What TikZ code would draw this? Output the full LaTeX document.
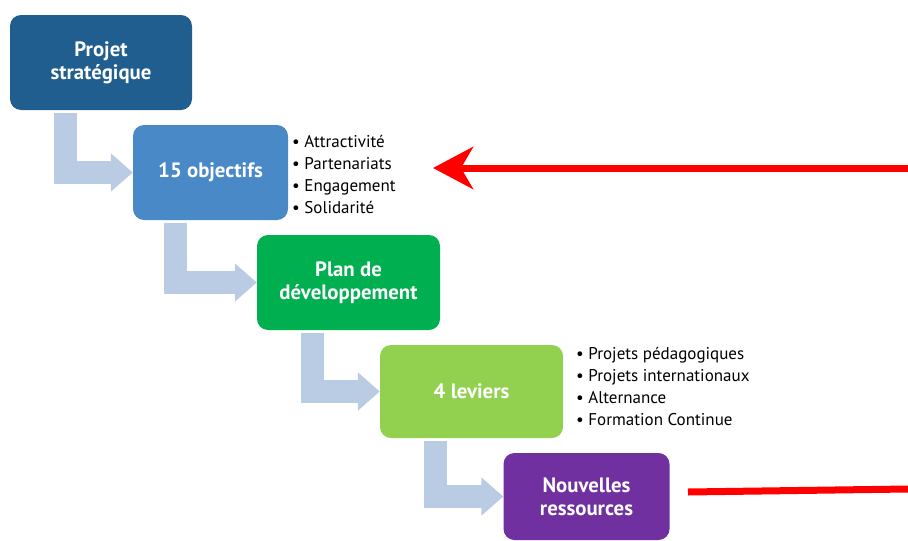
\documentclass[tikz,border=0pt]{standalone}
\usepackage{fontspec}
\setmainfont{PT Sans}
\usetikzlibrary{arrows.meta}
\definecolor{projblue}{HTML}{1F5E8E}
\definecolor{objblue}{HTML}{4A89C8}
\definecolor{plangreen}{HTML}{00B050}
\definecolor{levgreen}{HTML}{92D050}
\definecolor{respurple}{HTML}{7030A0}
\definecolor{bentblue}{HTML}{B9CCE4}
\begin{document}
\begin{tikzpicture}[x=1pt,y=-1pt]
			\tikzstyle{stage}=[rounded corners=11pt,text=white,align=center,inner sep=0pt,font=\bfseries\fontsize{20.8}{23}\selectfont]
			\tikzstyle{items}=[anchor=west,align=left,inner sep=0pt,font=\fontsize{17}{22}\selectfont]
			\tikzstyle{bent}=[line width=23pt,draw=bentblue,line join=miter,-{Triangle[width=37pt,length=22pt]}]
			\tikzstyle{redarrow}=[line width=7pt,draw=red,-{Stealth[length=40pt,width=42pt,inset=12pt]}]
			\tikzstyle{redline}=[line width=7pt,draw=red]
			\useasboundingbox (0,0) rectangle (908,541);
			\begin{scope}
			\node[stage,fill=projblue,minimum width=182pt,minimum height=95pt] (projet) at (101,62.5) {Projet\\strat\'egique};
			\node[stage,fill=objblue,minimum width=155pt,minimum height=95pt] (objectifs) at (210.5,172.5) {15 objectifs};
			\node[stage,fill=plangreen,minimum width=183pt,minimum height=95pt] (plan) at (348.5,282.5) {Plan de\\d\'eveloppement};
			\node[stage,fill=levgreen,minimum width=183pt,minimum height=93pt] (leviers) at (471.5,391.5) {4 leviers};
			\node[stage,fill=respurple,minimum width=166pt,minimum height=87pt] (ressources) at (586.5,496.5) {Nouvelles\\ressources};
			\node[items] (objlist) at (292,174) {• Attractivité\\• Partenariats\\• Engagement\\• Solidarité};
			\node[items] (levlist) at (576,386) {• Projets pédagogiques\\• Projets internationaux\\• Alternance\\• Formation Continue};
			\end{scope}
			
			\draw[bent] ([xshift=56pt,yshift=-3pt]projet.south west) |- (objectifs.west);
			\draw[bent] ([xshift=43pt,yshift=-3pt]objectifs.south west) |- (plan.west);
			\draw[bent] ([xshift=56pt,yshift=-3pt]plan.south west) |- (leviers.west);
			\draw[bent] ([xshift=56pt,yshift=-3pt]leviers.south west) |- (ressources.west);
			
			\coordinate (topedge) at (908,168);
			\coordinate (toptip) at (433,168);
			\coordinate (botstart) at (688,492);
			\coordinate (botedge) at (908,489);
			\draw[redarrow] (topedge) -- (toptip);
			\draw[redline] (botstart) -- (botedge);
		\end{tikzpicture}
\end{document}
